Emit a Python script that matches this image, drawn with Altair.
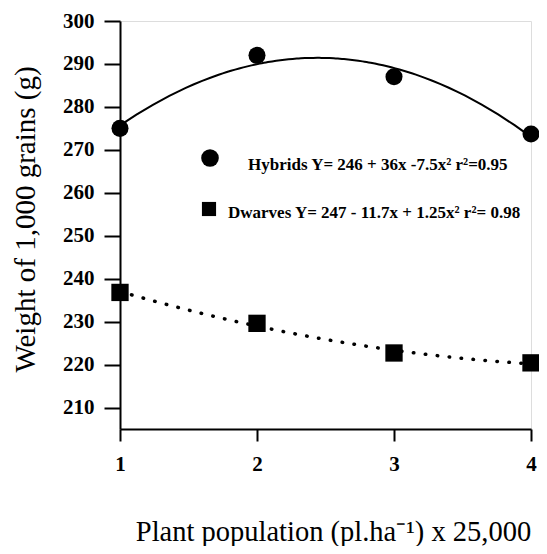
import altair as alt
import pandas as pd

# ---- data ----
x_values = [1, 2, 3, 4]
hybrids = [275, 292, 287, 273.7]
dwarves = [236.8, 229.6, 222.7, 220.4]
series_names = ["Hybrids", "Dwarves"]
legend_texts = [
    "Hybrids Y= 246 + 36x -7.5x\u00b2  r\u00b2=0.95",
    "Dwarves Y= 247 - 11.7x + 1.25x\u00b2  r\u00b2= 0.98",
]
y_ticks = list(range(210, 301, 10))
x_ticks = [1, 2, 3, 4]

rows = []
for name, vals in zip(series_names, [hybrids, dwarves]):
    for xv, yv in zip(x_values, vals):
        rows.append({"x": xv, "w": yv, "series": name})
df = pd.DataFrame(rows)

FONT = "Liberation Serif"
W, H = 411, 408

xs = alt.Scale(domain=[1, 4], nice=False, zero=False)
ys = alt.Scale(domain=[205, 300], nice=False, zero=False)

x_axis = alt.Axis(values=x_ticks, format="d", title="Plant population (pl.ha\u207b\u00b9) x 25,000",
                  grid=False, tickSize=12, labelPadding=12, labelFontSize=21,
                  labelFontWeight="bold", labelFont=FONT, titleFont=FONT, titleFontSize=28.5,
                  titleFontWeight="normal", titleX=213, titleY=111, titleBaseline="alphabetic",
                  domainColor="black", tickColor="black", labelColor="black", titleColor="black",
                  domainWidth=2, tickWidth=2, labelFlush=False)
y_axis = alt.Axis(values=y_ticks, title="Weight of 1,000 grains (g)", grid=False,
                  tickSize=16, labelPadding=10, labelFontSize=21, labelFontWeight="bold",
                  labelFont=FONT, titleFont=FONT, titleFontSize=29, titleFontWeight="normal",
                  titleX=-95, titleY=198, titleBaseline="middle", titleAngle=270,
                  domainColor="black", tickColor="black",
                  labelColor="black", titleColor="black", domainWidth=2, tickWidth=2)

base = alt.Chart(df)

points = base.mark_point(filled=True, opacity=1, color="black").encode(
    x=alt.X("x:Q", scale=xs, axis=x_axis),
    y=alt.Y("w:Q", scale=ys, axis=y_axis),
    shape=alt.Shape("series:N", scale=alt.Scale(domain=series_names, range=["circle", "square"]), legend=None),
    size=alt.Size("series:N", scale=alt.Scale(domain=series_names, range=[290, 300]), legend=None),
)

hyb_line = base.transform_filter(alt.datum.series == "Hybrids").transform_regression(
    "x", "w", method="poly", order=2, extent=[1, 4]
).mark_line(color="black", strokeWidth=2).encode(
    x=alt.X("x:Q", scale=xs), y=alt.Y("w:Q", scale=ys)
)

dw_line = base.transform_filter(alt.datum.series == "Dwarves").transform_regression(
    "x", "w", method="poly", order=2, extent=[1, 4]
).mark_line(color="black", strokeWidth=3.5, strokeDash=[0.5, 11.5], strokeCap="round").encode(
    x=alt.X("x:Q", scale=xs), y=alt.Y("w:Q", scale=ys)
)

leg_df = pd.DataFrame({"series": series_names, "label": legend_texts})

leg_circle = alt.Chart(leg_df).transform_filter(alt.datum.series == "Hybrids").mark_point(
    filled=True, opacity=1, color="black", shape="circle", size=310
).encode(x=alt.value(90), y=alt.value(137))

leg_square = alt.Chart(leg_df).transform_filter(alt.datum.series == "Dwarves").mark_point(
    filled=True, opacity=1, color="black", shape="square", size=200
).encode(x=alt.value(89), y=alt.value(188))

leg_t1 = alt.Chart(leg_df).transform_filter(alt.datum.series == "Hybrids").mark_text(
    font=FONT, fontSize=17, fontWeight="bold", align="left", baseline="middle", color="black"
).encode(x=alt.value(128), y=alt.value(144), text="label:N")

leg_t2 = alt.Chart(leg_df).transform_filter(alt.datum.series == "Dwarves").mark_text(
    font=FONT, fontSize=17, fontWeight="bold", align="left", baseline="middle", color="black"
).encode(x=alt.value(108), y=alt.value(192), text="label:N")

chart = alt.layer(hyb_line, dw_line, points, leg_circle, leg_square, leg_t1, leg_t2).properties(
    width=W, height=H,
    autosize=alt.AutoSizeParams(type="none"),
    padding={"left": 112, "top": 13, "right": 8, "bottom": 117},
).configure_view(stroke=None).configure(background="white")

chart.save("out.html", embed_options={"renderer": "svg", "actions": False})
